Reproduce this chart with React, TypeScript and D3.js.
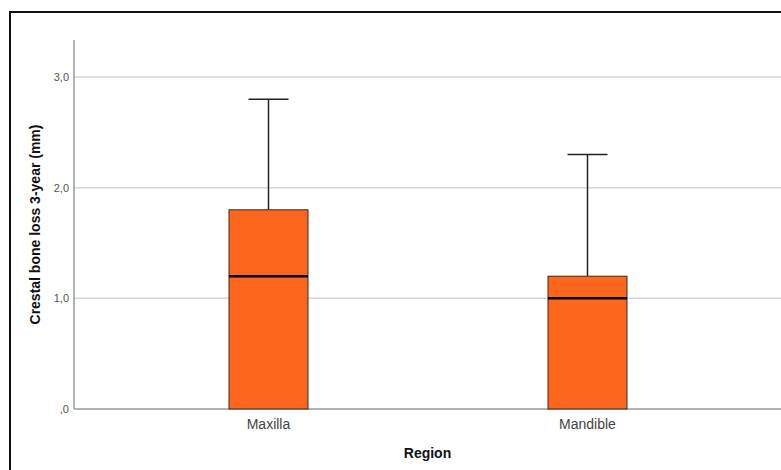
import React from "react";
import * as d3 from "d3";

// Box-plot summary per region (mm)
const regions = ["Maxilla", "Mandible"];
const lowerWhisker = [0, 0];
const q1 = [0, 0];
const medians = [1.2, 1.0];
const q3 = [1.8, 1.2];
const upperWhisker = [2.8, 2.3];
const yTicks = [0, 1, 2, 3];
const yTickLabels = [",0", "1,0", "2,0", "3,0"];

const W = 781;
const H = 470;
const FONT = "'Liberation Sans', Arial, sans-serif";

export default function App() {
  const axisX = 74;
  const baseY = 409;
  const topY = 40;

  const x = d3.scaleBand<string>().domain(regions).range([109, 747]).padding(0);
  const y = d3.scaleLinear().domain([0, 3]).range([baseY, 77]);

  const boxW = 79;
  const capW = 40;

  return (
    <div style={{ position: "absolute", left: 0, top: 0 }}>
      <svg width={W} height={H} style={{ display: "block", background: "#fff" }}>
        {/* outer frame */}
        <rect x={10} y={12} width={W + 20} height={H + 20} fill="none" stroke="#111" strokeWidth={2} />

        {/* gridlines */}
        {yTicks.filter((t) => t > 0).map((t) => (
          <line key={t} x1={axisX} x2={W} y1={y(t)} y2={y(t)} stroke="#d6d6d6" strokeWidth={1.5} />
        ))}

        {/* axes */}
        <line x1={axisX} x2={axisX} y1={topY} y2={baseY} stroke="#9a9a9a" strokeWidth={1.5} />
        <line x1={axisX} x2={W} y1={baseY} y2={baseY} stroke="#9a9a9a" strokeWidth={1.5} />

        {/* y tick labels */}
        {yTicks.map((t, i) => (
          <text
            key={t}
            x={69}
            y={y(t)}
            dy="0.35em"
            textAnchor="end"
            fontFamily={FONT}
            fontSize={11}
            fill="#555"
          >
            {yTickLabels[i]}
          </text>
        ))}

        {/* boxes */}
        {regions.map((r, i) => {
          const cx = (x(r) as number) + x.bandwidth() / 2;
          return (
            <g key={r}>
              <line x1={cx} x2={cx} y1={y(q3[i])} y2={y(upperWhisker[i])} stroke="#222" strokeWidth={1.5} />
              <line x1={cx - capW / 2} x2={cx + capW / 2} y1={y(upperWhisker[i])} y2={y(upperWhisker[i])} stroke="#222" strokeWidth={1.5} />
              <line x1={cx} x2={cx} y1={y(lowerWhisker[i])} y2={y(q1[i])} stroke="#222" strokeWidth={1.5} />
              <rect
                x={cx - boxW / 2}
                y={y(q3[i])}
                width={boxW}
                height={y(q1[i]) - y(q3[i])}
                fill="#fd661d"
                stroke="#3a2a20"
                strokeWidth={1}
              />
              <line x1={cx - boxW / 2} x2={cx + boxW / 2} y1={y(medians[i])} y2={y(medians[i])} stroke="#000" strokeWidth={2.5} />
              <text
                x={cx}
                y={429}
                textAnchor="middle"
                fontFamily={FONT}
                fontSize={14}
                fill="#444"
              >
                {r}
              </text>
            </g>
          );
        })}

        {/* axis titles */}
        <text
          x={(axisX + W) / 2}
          y={458}
          textAnchor="middle"
          fontFamily={FONT}
          fontSize={14}
          fontWeight="bold"
          fill="#111"
        >
          Region
        </text>
        <text
          transform={`translate(40, ${(topY + baseY) / 2}) rotate(-90)`}
          textAnchor="middle"
          fontFamily={FONT}
          fontSize={14}
          fontWeight="bold"
          fill="#111"
        >
          Crestal bone loss 3-year (mm)
        </text>
      </svg>
    </div>
  );
}
